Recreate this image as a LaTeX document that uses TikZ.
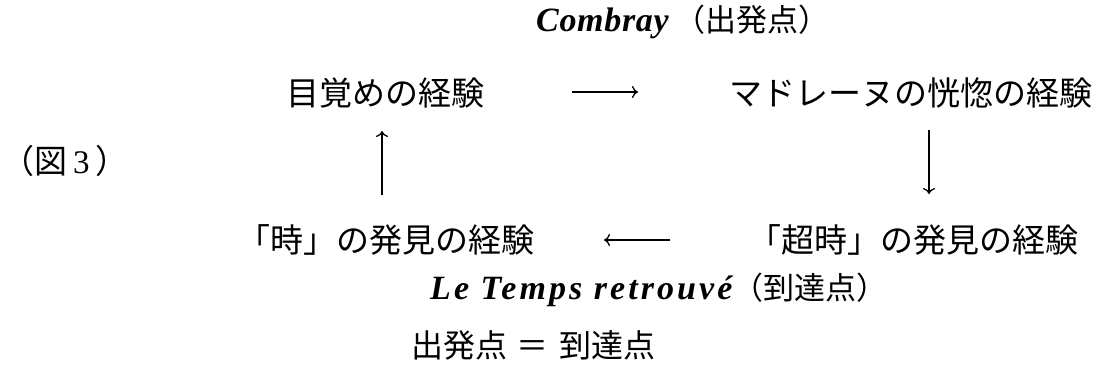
\documentclass[tikz,border=0pt]{standalone}
\usepackage{fontspec}
\setmainfont{Liberation Serif}
\newfontfamily\jp{Noto Sans CJK JP}
\usetikzlibrary{arrows.meta}
\begin{document}
\begin{tikzpicture}[x=1pt,y=-1pt,
  jt/.style={inner sep=0pt, font=\jp\fontsize{33}{36}\selectfont},
  mixed/.style={inner sep=0pt, anchor=west, font=\fontsize{34}{38}\selectfont},
  arr/.style={line width=1.3pt, -{To[length=6pt,width=12pt]}}]
\useasboundingbox[fill=white] (0,0) rectangle (1108,376);
% title
\node[mixed] (top) at (536,22) {{\bfseries\itshape\addfontfeature{LetterSpace=2}Combray}\hspace{6pt}{\jp\fontsize{31}{34}\selectfont （出発点）}};
% four experiences
\node[jt] (a) at (385,93) {目覚めの経験};
\node[jt] (b) at (911,93) {マドレーヌの恍惚の経験};
\node[jt] (c) at (386,240) {「時」の発見の経験};
\node[jt] (d) at (913,240) {「超時」の発見の経験};
% figure label
\node[inner sep=0pt, anchor=west, font=\fontsize{33}{36}\selectfont] (fig) at (1,161) {{\jp （図}\hspace{6pt}3\hspace{6pt}{\jp ）}};
% bottom
\node[mixed] (bot) at (430,290) {{\bfseries\itshape\addfontfeature{LetterSpace=9}Le Temps retrouvé}{\jp\fontsize{31}{34}\selectfont （到達点）}};
\node[jt, font=\jp\fontsize{32}{36}\selectfont] (eq) at (533,345) {出発点\hspace{10pt}＝\hspace{10pt}到達点};
% connector end points
\coordinate (ab1) at (572,92);
\coordinate (ab2) at (638,92);
\coordinate (bd1) at (929,130);
\coordinate (bd2) at (929,194);
\coordinate (dc1) at (670,240);
\coordinate (dc2) at (604,240);
\coordinate (ca1) at (382,195);
\coordinate (ca2) at (382,131);
\draw[arr] (ab1) -- (ab2);
\draw[arr] (bd1) -- (bd2);
\draw[arr] (dc1) -- (dc2);
\draw[arr] (ca1) -- (ca2);
\end{tikzpicture}
\end{document}
